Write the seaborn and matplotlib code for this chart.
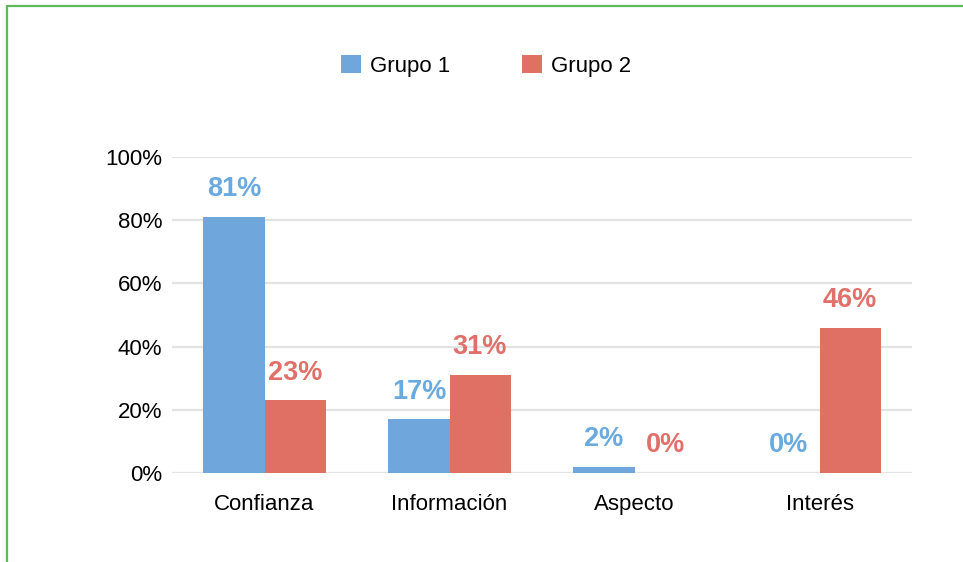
import pandas as pd
import matplotlib.pyplot as plt
import seaborn as sns
from matplotlib.lines import Line2D

categorias = ['Confianza', 'Información', 'Aspecto', 'Interés']
grupos = ['Grupo 1', 'Grupo 2']
grupo1 = [81, 17, 2, 0]
grupo2 = [23, 31, 0, 46]
ticks_y = [0, 20, 40, 60, 80, 100]

AZUL = '#6fa7dd'
ROJO = '#e06f64'
AZUL_TXT = '#6aaade'
ROJO_TXT = '#e0716a'


def main():
    sns.set_style('white')
    plt.rcParams['font.family'] = ['Liberation Sans', 'DejaVu Sans']
    plt.rcParams['text.color'] = 'black'
    plt.rcParams['xtick.color'] = 'black'
    plt.rcParams['ytick.color'] = 'black'

    df = pd.DataFrame({
        'categoria': categorias * 2,
        'grupo': [grupos[0]] * len(categorias) + [grupos[1]] * len(categorias),
        'valor': grupo1 + grupo2,
    })

    fig = plt.figure(figsize=(9.63, 5.62), dpi=100)
    ax = fig.add_axes([172 / 963, 1 - 473 / 562, 740 / 963, 316 / 562])

    sns.barplot(data=df, x='categoria', y='valor', hue='grupo', order=categorias,
                hue_order=grupos, palette=[AZUL, ROJO], width=0.66,
                saturation=1, ax=ax, legend=False, linewidth=0)

    ax.set_xlim(-0.5, 3.5)
    ax.set_ylim(0, 100)
    ax.set_yticks(ticks_y)
    ax.set_yticklabels([f'{t}%' for t in ticks_y])
    ax.set_xlabel('')
    ax.set_ylabel('')
    ax.yaxis.grid(True, color='#e3e3e3', linewidth=1.6)
    ax.set_axisbelow(True)
    sns.despine(ax=ax, left=True, bottom=True)
    ax.tick_params(axis='y', length=0, pad=7, labelsize=16, labelcolor='black')
    ax.tick_params(axis='x', length=0, pad=15, labelsize=16, labelcolor='black')

    # etiquetas de valor sobre cada barra
    for cont, color in zip(ax.containers, [AZUL_TXT, ROJO_TXT]):
        for barra in cont:
            h = barra.get_height()
            ax.annotate(f'{h:.0f}%', (barra.get_x() + barra.get_width() / 2, h),
                        xytext=(0, 20), textcoords='offset points',
                        ha='center', va='center', fontsize=19.5,
                        fontweight='bold', color=color, annotation_clip=False)

    handles = [plt.Rectangle((0, 0), 1, 1, facecolor=c, edgecolor='none') for c in [AZUL, ROJO]]
    fig.legend(handles, grupos, loc='center', bbox_to_anchor=(486 / 963, 1 - 66 / 562),
               ncol=2, frameon=False, fontsize=16, handlelength=0.9, handleheight=0.9,
               handletextpad=0.4, columnspacing=3.2, labelcolor='black')

    # marco verde (izquierda y arriba)
    x0 = 6.5 / 963
    y0 = 1 - 5.5 / 562
    fig.add_artist(Line2D([x0, x0], [0, y0], transform=fig.transFigure,
                          color='#5db85a', linewidth=1.6))
    fig.add_artist(Line2D([x0, 1], [y0, y0], transform=fig.transFigure,
                          color='#5db85a', linewidth=1.6))

    fig.savefig('out.png', dpi=100, facecolor='white')


if __name__ == "__main__":
    main()
